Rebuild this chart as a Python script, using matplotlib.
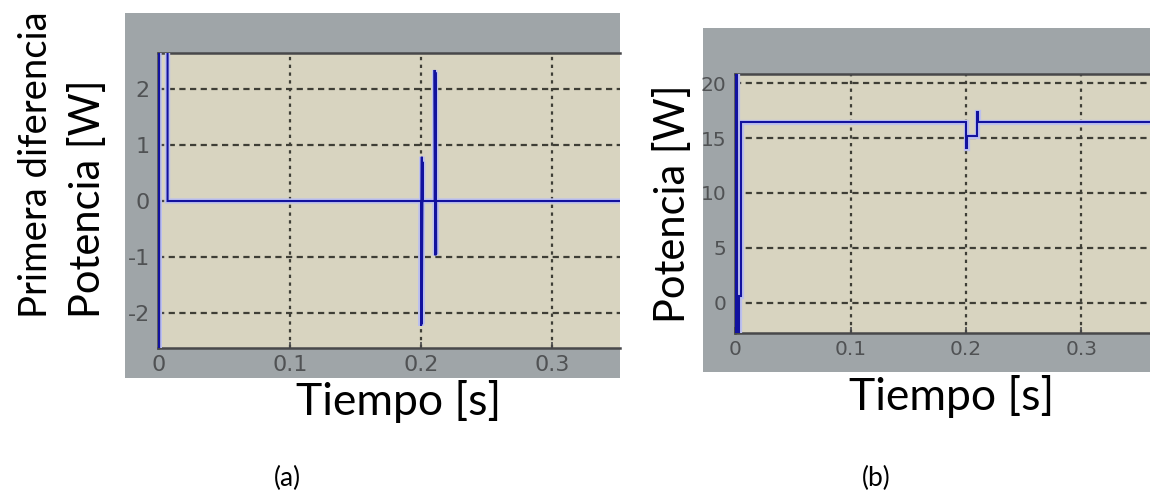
import matplotlib
matplotlib.use("Agg")
import matplotlib.pyplot as plt
import matplotlib.patheffects as pe
from matplotlib.patches import Rectangle

plt.rcParams["axes.unicode_minus"] = False

# (a) first difference of the power signal, step samples (time [s], value [W])
t_a = [0.0, 0.0, 0.0, 0.0065, 0.0065,
       0.2000, 0.2000, 0.2006, 0.2006, 0.2012, 0.2012, 0.2016,
       0.2104, 0.2104, 0.2110, 0.2110, 0.2115, 0.2115, 0.36]
y_a = [0.0, -3.0, 3.0, 3.0, 0.0,
       0.0, -2.23, 0.79, -2.20, 0.70, 0.0, 0.0,
       0.0, 2.34, -0.97, 2.30, -0.95, 0.0, 0.0]

# (b) power signal
t_b = [0.0, 0.0, 0.0015, 0.0015, 0.0035, 0.0035, 0.0045, 0.0045,
       0.2000, 0.2000, 0.2008, 0.2008, 0.2098, 0.2098, 0.2105, 0.2105, 0.36]
y_b = [-3.0, 21.0, 21.0, -3.0, -3.0, 0.6, 0.6, 16.5,
       16.5, 14.1, 14.1, 15.2, 15.2, 17.4, 17.4, 16.5, 16.5]

xticks = [0, 0.1, 0.2, 0.3]
xtick_labels = ["0", "0.1", "0.2", "0.3"]
yticks_a = [-2, -1, 0, 1, 2]
yticks_b = [0, 5, 10, 15, 20]

W, H = 1150, 495
fig = plt.figure(figsize=(W / 100, H / 100), dpi=100)
fig.patch.set_facecolor("white")

PANEL_GRAY = "#9fa5a8"
PLOT_BEIGE = "#d8d4c0"
FRAME = "#48484a"
GRID = "#3e3e36"
LINE_BLUE = "#12129e"
HALO = "#bcc0ee"
TICK_COLOR = "#505254"


def box(x0, y0, x1, y1):
    """Pixel box (top-left origin) -> figure fraction rect."""
    return [x0 / W, 1 - y1 / H, (x1 - x0) / W, (y1 - y0) / H]


def scope_axes(panel, plot, xlim, ylim, yticks, tick_size):
    px0, py0, px1, py1 = panel
    fig.patches.append(Rectangle((px0 / W, 1 - py1 / H), (px1 - px0) / W,
                                 (py1 - py0) / H, transform=fig.transFigure,
                                 facecolor=PANEL_GRAY, edgecolor="none",
                                 zorder=-10))
    ax = fig.add_axes(box(*plot))
    ax.set_facecolor(PLOT_BEIGE)
    ax.set_xlim(*xlim)
    ax.set_ylim(*ylim)
    ax.set_xticks(xticks)
    ax.set_xticklabels(xtick_labels)
    ax.set_yticks(yticks)
    ax.set_yticklabels([str(v) for v in yticks])
    ax.tick_params(direction="in", length=4, width=1.2, colors=FRAME,
                   labelcolor=TICK_COLOR, labelsize=tick_size, pad=6)
    ax.tick_params(axis="x", pad=5)
    for lab in ax.get_xticklabels() + ax.get_yticklabels():
        lab.set_family("DejaVu Sans")
    for side in ("left", "top", "bottom"):
        ax.spines[side].set_color(FRAME)
        ax.spines[side].set_linewidth(1.8)
    ax.spines["right"].set_visible(False)
    for v in yticks:
        ax.axhline(v, color=GRID, lw=1.6, ls=(0, (2.8, 2.0)), zorder=1)
    for v in xticks[1:]:
        ax.axvline(v, color=GRID, lw=1.6, ls=(0, (1.5, 2.0)), zorder=1)
    return ax


def signal(ax, t, y):
    ax.plot(t, y, color=LINE_BLUE, lw=1.5, solid_joinstyle="miter",
            zorder=3, clip_on=True,
            path_effects=[pe.Stroke(linewidth=3.8, foreground=HALO),
                          pe.Normal()])


ax_a = scope_axes((125, 13, 620, 378), (158, 53, 620, 348),
                  (-0.0008, 0.3519), (-2.625, 2.643), yticks_a, 16)
signal(ax_a, t_a, y_a)

ax_b = scope_axes((703, 28, 1150, 372), (735, 74, 1150, 333),
                  (-0.0004, 0.3596), (-2.73, 20.82), yticks_b, 14.5)
signal(ax_b, t_b, y_b)

label_font = ["Lato", "DejaVu Sans"]

fig.text(399 / W, 1 - 415 / H, "Tiempo [s]", ha="center", va="baseline",
         fontsize=32, family=label_font)
fig.text(952 / W, 1 - 410 / H, "Tiempo [s]", ha="center", va="baseline",
         fontsize=32, family=label_font)

fig.text(47 / W, 1 - 318 / H, "Primera diferencia", rotation=90,
         rotation_mode="anchor", ha="left", va="baseline",
         fontsize=27.5, family=label_font)
fig.text(100 / W, 1 - 318 / H, "Potencia [W]", rotation=90,
         rotation_mode="anchor", ha="left", va="baseline",
         fontsize=30, family=label_font)
fig.text(685 / W, 1 - 323 / H, "Potencia [W]", rotation=90,
         rotation_mode="anchor", ha="left", va="baseline",
         fontsize=30, family=label_font)

fig.text(287 / W, 1 - 478 / H, "(a)", ha="center", va="center",
         fontsize=19, family=label_font)
fig.text(876 / W, 1 - 478 / H, "(b)", ha="center", va="center",
         fontsize=19, family=label_font)

fig.savefig("out.png", dpi=100, facecolor="white")
